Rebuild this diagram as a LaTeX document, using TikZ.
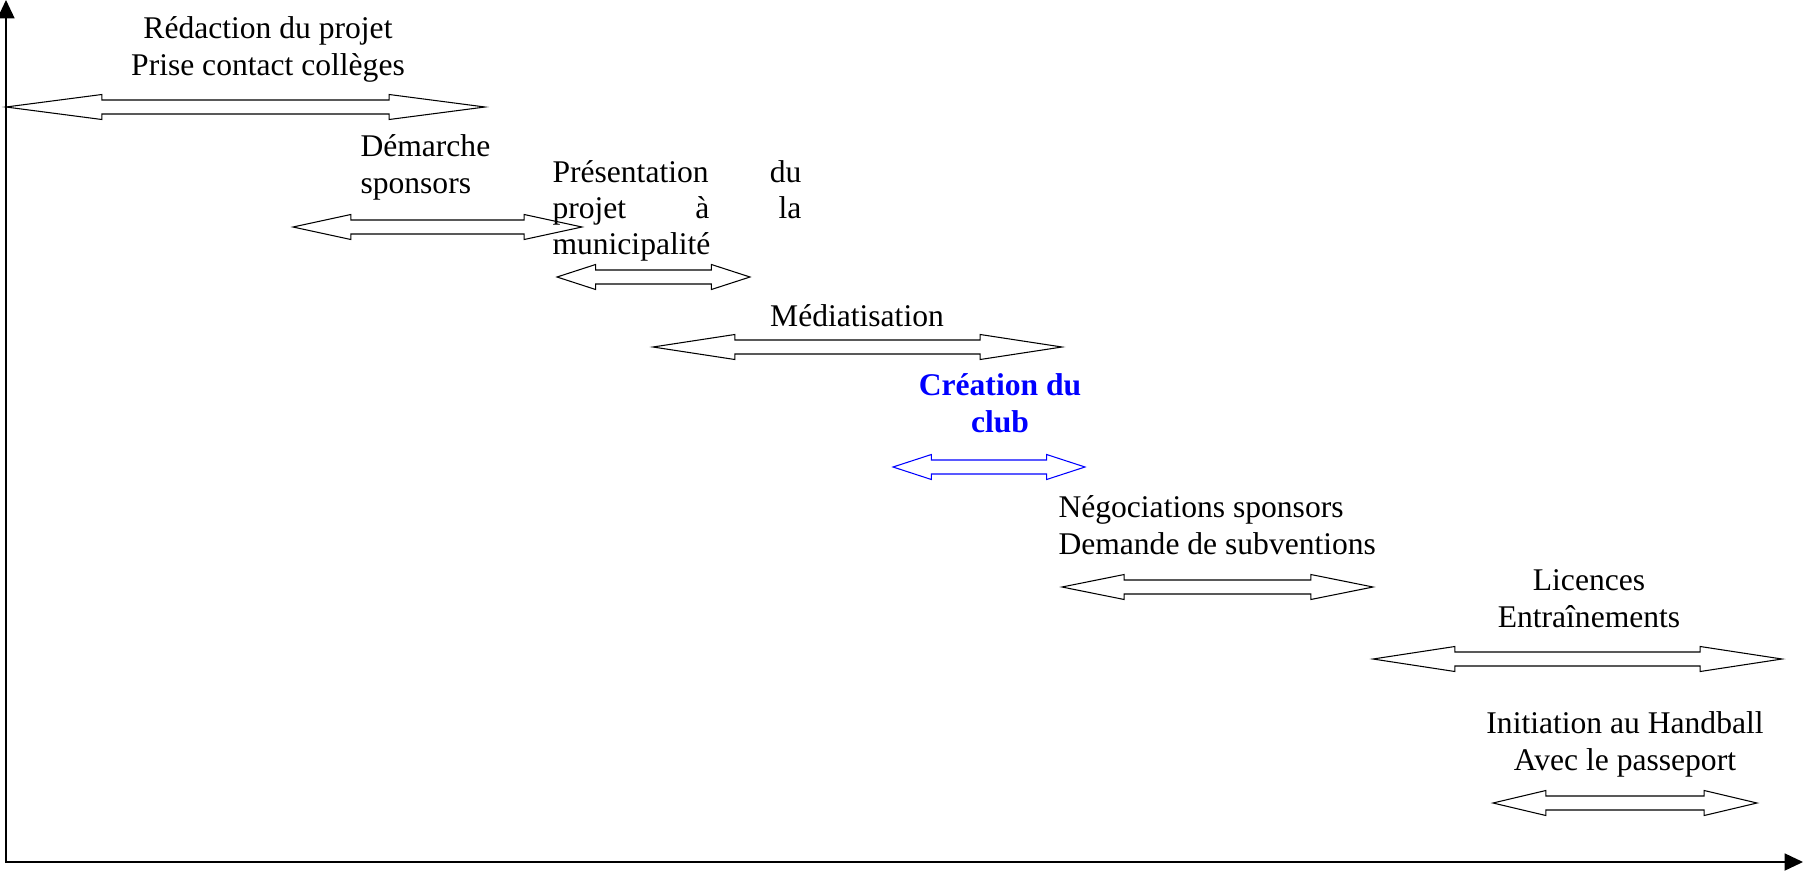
\documentclass[tikz,border=0pt]{standalone}
\usepackage{fontspec}
\setmainfont{Liberation Serif}
\usepackage{xcolor}
\usepackage{tikz}
\usetikzlibrary{arrows.meta}
\definecolor{clubblue}{RGB}{0, 0, 255}

\tikzset{
  axis/.style={line width=0.55pt, {Triangle[length=7pt, width=6.5pt]}-{Triangle[length=7pt, width=6.5pt]}},
  blockarrow/.style={line width=0.4pt, line join=miter},
  lbl/.style={inner sep=0pt, font=\fontsize{12}{13.7}\selectfont, align=center}
}

% block arrow: [colour]{left tip}{right tip}{height}
\newcommand{\dblarrow}[4][black]{%
  \pgfmathsetmacro{\headlen}{0.2*(#3-#2)}
  \draw[blockarrow, #1] (#2,#4) -- ++(\headlen,-12.5) -- ++(0,5.5) -- ({#3-\headlen},{#4-7}) -- ++(0,-5.5)
    -- (#3,#4) -- ++(-\headlen,12.5) -- ++(0,-5.5) -- ({#2+\headlen},{#4+7}) -- ++(0,5.5) -- cycle;
}

\begin{document}
\begin{tikzpicture}[x=0.38pt, y=-0.38pt]
            \useasboundingbox (0,0) rectangle (1803,877);
            % Axes
            \coordinate (ytop) at (6,0);
            \coordinate (origin) at (6,862);
            \coordinate (xend) at (1803,862);
            \draw[axis] (ytop) -- (origin) -- (xend);
            % Steps (base = last line)
            \node[lbl, anchor=base] (redaction) at (268,75) {Rédaction du projet\\Prise contact collèges};
            \dblarrow{6}{485}{107}
            \node[lbl, anchor=base west, align=left] (demarche) at (360,193) {Démarche\\sponsors};
            \dblarrow{293}{582}{227}
            \node[lbl, anchor=base west, align=left, text width=94.6pt] (presentation) at (552,182)
              {Présentation \hfill du\\projet \hfill à \hfill la\\municipalité};
            \dblarrow{557}{750}{277}
            \node[lbl, anchor=base] (mediatisation) at (857,326) {Médiatisation};
            \dblarrow{653}{1062}{347}
            % Club
            \node[lbl, anchor=base, text=clubblue, font=\fontsize{12}{13.7}\selectfont\bfseries] (creation) at (1000,432) {Création du\\club};
            \dblarrow[clubblue]{893}{1085}{467}
            \node[lbl, anchor=base west, align=left] (negociations) at (1058,554) {Négociations sponsors\\Demande de subventions};
            \dblarrow{1062}{1373}{587}
            \node[lbl, anchor=base] (licences) at (1589,627) {Licences\\Entraînements};
            \dblarrow{1373}{1782}{659}
            \node[lbl, anchor=base] (initiation) at (1625,770) {Initiation au Handball\\Avec le passeport};
            \dblarrow{1493}{1757}{803}
        \end{tikzpicture}
\end{document}
